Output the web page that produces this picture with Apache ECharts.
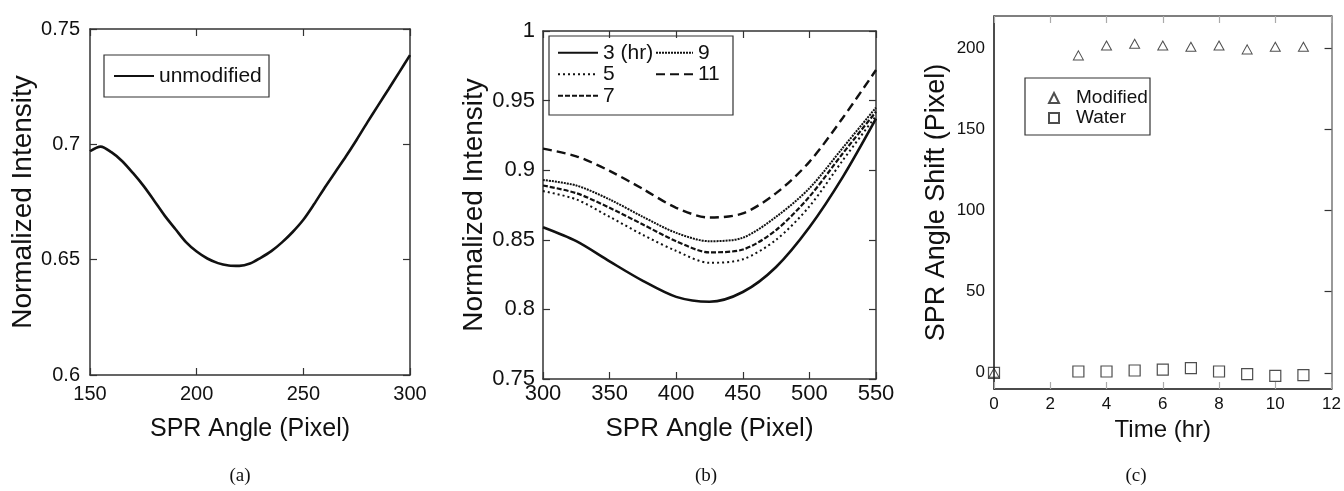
<!DOCTYPE html>
<html><head><meta charset="utf-8">
<script src="https://cdn.jsdelivr.net/npm/echarts@6/dist/echarts.min.js"></script>
<style>html,body{margin:0;padding:0;background:#fff}#c{width:1344px;height:491px}</style>
</head><body><div id="c"></div>
<script>
// Panel (a)
const anglesA = [150,155,160,165,170,175,180,185,190,195,200,205,210,215,220,225,230,235,240,245,250,255,260,265,270,275,280,285,290,295,300];
const intensityA = [0.6970,0.6990,0.6966,0.6928,0.6877,0.6821,0.6757,0.6691,0.6633,0.6576,0.6535,0.6505,0.6485,0.6475,0.6473,0.6483,0.6508,0.6537,0.6575,0.6620,0.6673,0.6740,0.6812,0.6880,0.6948,0.7020,0.7095,0.7168,0.7240,0.7313,0.7387];
// Panel (b)
const anglesB = [300,325,350,375,400,425,450,475,500,525,550];
const hr3  = [0.859,0.849,0.8345,0.8205,0.809,0.8055,0.8125,0.8305,0.859,0.895,0.937];
const hr5  = [0.885,0.879,0.8665,0.8535,0.842,0.8335,0.836,0.850,0.874,0.907,0.939];
const hr7  = [0.889,0.8835,0.873,0.861,0.849,0.841,0.843,0.857,0.881,0.912,0.942];
const hr9  = [0.893,0.889,0.879,0.8665,0.855,0.849,0.8515,0.8665,0.887,0.916,0.945];
const hr11 = [0.9155,0.910,0.8995,0.8865,0.873,0.866,0.869,0.8835,0.906,0.9375,0.972];
// Panel (c)
const timeC = [0,3,4,5,6,7,8,9,10,11];
const modified = [0,195.7,201.8,202.9,201.8,201.0,201.8,199.4,201.0,201.0];
const water = [0,0.8,0.8,1.4,1.9,2.9,0.8,-0.8,-1.9,-1.4];
const ticksCY = [0,50,100,150,200];

const pairs = (xs, ys) => xs.map((x, i) => [x, ys[i]]);
const FONT = 'Liberation Sans, Arial, sans-serif';
const INK = '#111';
const AX = '#333';

function axisPair(grid, dim, cfg) {
  const common = {
    type: 'value', gridIndex: grid, min: cfg.min, max: cfg.max,
    splitLine: {show: false}
  };
  if (cfg.interval !== undefined) common.interval = cfg.interval;
  const main = Object.assign({}, common, {
    position: dim === 'x' ? 'bottom' : 'left',
    axisLine: {show: true, onZero: false, lineStyle: {color: cfg.lineColor || AX, width: 1.5}},
    axisTick: {show: cfg.mainTicks !== false, inside: true, length: 7,
      lineStyle: {color: cfg.tickColor || AX, width: 1.2}},
    axisLabel: {fontSize: cfg.labelSize, color: INK, fontFamily: FONT, margin: cfg.labelMargin},
    name: cfg.name, nameLocation: 'middle', nameGap: cfg.nameGap,
    nameTextStyle: {fontSize: cfg.nameSize, color: INK, fontFamily: FONT}
  });
  const mirror = Object.assign({}, common, {
    position: dim === 'x' ? 'top' : 'right',
    axisLine: {show: true, onZero: false, lineStyle: {color: cfg.mirrorColor || AX, width: 1.5}},
    axisTick: {show: true, inside: true, length: 7, lineStyle: {color: cfg.mirrorTickColor || cfg.tickColor || AX, width: 1.2}},
    axisLabel: {show: false}
  });
  if (cfg.custom) {
    main.axisTick.customValues = cfg.custom;
    main.axisLabel.customValues = cfg.custom;
    mirror.axisTick.customValues = cfg.custom;
  }
  return [main, mirror];
}

const xAxes = [].concat(
  axisPair(0, 'x', {min: 150, max: 300, interval: 50, labelSize: 20, labelMargin: 9,
    name: 'SPR Angle (Pixel)', nameGap: 42, nameSize: 25}),
  axisPair(1, 'x', {min: 300, max: 550, interval: 50, labelSize: 22, labelMargin: 4,
    name: 'SPR Angle (Pixel)', nameGap: 37, nameSize: 26}),
  axisPair(2, 'x', {min: 0, max: 12, interval: 2, labelSize: 17, labelMargin: 7,
    name: 'Time (hr)', nameGap: 27, nameSize: 24, lineColor: '#111', tickColor: '#aaa', mirrorColor: '#555', mirrorTickColor: '#aaa'})
);
const yAxes = [].concat(
  axisPair(0, 'y', {min: 0.6, max: 0.75, interval: 0.05, labelSize: 20, labelMargin: 10,
    name: 'Normalized Intensity', nameGap: 52, nameSize: 28}),
  axisPair(1, 'y', {min: 0.75, max: 1, interval: 0.05, labelSize: 22, labelMargin: 8,
    name: 'Normalized Intensity', nameGap: 53, nameSize: 28}),
  axisPair(2, 'y', {min: -10, max: 220, custom: ticksCY, labelSize: 17, labelMargin: 9,
    name: 'SPR Angle Shift (Pixel)', nameGap: 44, nameSize: 27, lineColor: '#111', mainTicks: false, mirrorColor: '#777'})
);

function lineSeries(name, xi, xs, ys, type, width) {
  return {
    type: 'line', name: name, xAxisIndex: xi, yAxisIndex: xi,
    data: pairs(xs, ys), smooth: 0.3, symbol: 'none', showSymbol: false,
    lineStyle: {color: INK, width: width, type: type},
    itemStyle: {color: INK}
  };
}

const series = [
  lineSeries('unmodified', 0, anglesA, intensityA, 'solid', 2.6),
  lineSeries('3 (hr)', 2, anglesB, hr3, 'solid', 2.6),
  lineSeries('5', 2, anglesB, hr5, [2, 3], 2),
  lineSeries('7', 2, anglesB, hr7, [5, 2], 2.2),
  lineSeries('9', 2, anglesB, hr9, [2, 1], 2),
  lineSeries('11', 2, anglesB, hr11, [9, 5], 2.4),
  {type: 'scatter', name: 'Modified', xAxisIndex: 4, yAxisIndex: 4,
    data: pairs(timeC, modified), symbol: 'triangle', symbolSize: [10, 9],
    itemStyle: {color: 'rgba(0,0,0,0)', borderColor: '#222', borderWidth: 1}},
  {type: 'scatter', name: 'Water', xAxisIndex: 4, yAxisIndex: 4,
    data: pairs(timeC, water), symbol: 'rect', symbolSize: 11,
    itemStyle: {color: 'rgba(0,0,0,0)', borderColor: '#222', borderWidth: 1.2}}
];

const legendText = (size, lh) => ({fontSize: size, color: INK, fontFamily: FONT, lineHeight: lh});
const noSymbol = {opacity: 0};
const legends = [
  {data: ['unmodified'], left: 113, top: 65, padding: 0, itemWidth: 40, itemHeight: 14,
    selectedMode: false, itemStyle: noSymbol, textStyle: legendText(21, 22)},
  {data: ['3 (hr)', '5', '7'], orient: 'vertical', left: 557, top: 42, padding: 0, itemGap: 0,
    itemWidth: 40, itemHeight: 14, selectedMode: false, itemStyle: noSymbol, textStyle: legendText(21, 21.5)},
  {data: ['9', '11'], orient: 'vertical', left: 655, top: 42, padding: 0, itemGap: 0,
    itemWidth: 37, itemHeight: 14, selectedMode: false, itemStyle: noSymbol, textStyle: legendText(21, 21.5)},
  {data: ['Modified', 'Water'], orient: 'vertical', left: 1048, top: 88, padding: 0, itemGap: 0,
    itemWidth: 10, itemHeight: 10, selectedMode: false,
    textStyle: Object.assign(legendText(19, 20), {padding: [0, 0, 0, 12]})}
];

const box = (x, y, w, h) => ({type: 'rect', shape: {x: x, y: y, width: w, height: h},
  style: {fill: 'none', stroke: AX, lineWidth: 1.2}, silent: true});
const caption = (x, t) => ({type: 'text', x: x, y: 476, silent: true,
  style: {text: t, fontSize: 19, fontFamily: 'Liberation Serif, DejaVu Serif, serif', fill: INK,
    align: 'center', verticalAlign: 'middle'}});

const chart = echarts.init(document.getElementById('c'), null, {renderer: 'canvas'});
chart.setOption({
  animation: false,
  backgroundColor: '#fff',
  grid: [
    {left: 90, top: 29, width: 320, height: 346},
    {left: 543, top: 31, width: 333, height: 348},
    {left: 994, top: 16, width: 339, height: 373}
  ],
  xAxis: xAxes,
  yAxis: yAxes,
  legend: legends,
  series: series,
  graphic: [
    box(104, 55, 165, 42),
    box(549, 36, 184, 79),
    box(1025, 78, 125, 57),
    caption(240, '(a)'),
    caption(706, '(b)'),
    caption(1136, '(c)')
  ]
});
</script></body></html>
